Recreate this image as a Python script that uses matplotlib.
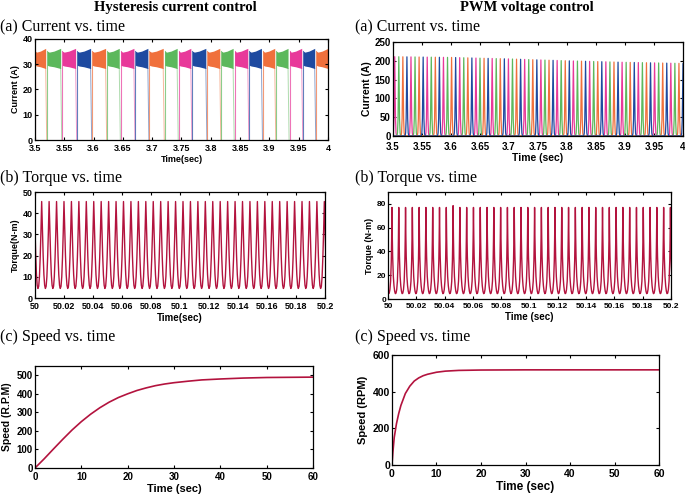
import numpy as np
import matplotlib
matplotlib.use('Agg')
from matplotlib import pyplot as plt
from matplotlib.ticker import MultipleLocator

W, H = 685, 494

# phase colours (same four for both current plots)
phase_colors = {'orange': '#F0703C', 'green': '#5CB85C',
                'pink': '#E8399A', 'blue': '#1E4AA0'}
trace_color = '#B3133E'

# --- (a) hysteresis current: end of every conduction block (sec) ---
hys_block_end = [3.5182, 3.5438, 3.5693, 3.5949, 3.6205, 3.6438, 3.6688,
                 3.6926, 3.7188, 3.7426, 3.7659, 3.7915, 3.8153, 3.8381,
                 3.8631, 3.8864, 3.9091, 3.9318, 3.9551, 3.9773, 4.0]
hys_phase_order = ['orange', 'green', 'pink', 'blue']
hys_gap = 0.0026                           # dead time between blocks
hys_band_pos = [0.0, 0.15, 0.5, 1.0]       # position inside block
hys_band_top = [35.2, 34.8, 35.2, 36.3]    # upper edge of chopping band (A)
hys_band_bot = [29.6, 29.3, 29.0, 28.3]    # lower edge of chopping band (A)

# --- (a) PWM current: pulse peaks ---
pwm_first_peak = 3.5030
pwm_pulse_period = 0.0070
pwm_env_t = [3.5, 3.6, 3.7, 3.8, 3.9, 4.0]
pwm_env_peak = [211, 209, 205, 200, 196, 193]
pwm_phase_order = ['pink', 'green', 'orange', 'blue']
pwm_pulse_dt = [-0.0032, -0.0022, -0.0013, -0.0007, 0.0, 0.0007, 0.0013,
                0.0022, 0.0032]
pwm_pulse_frac = [0.0, 0.04, 0.22, 0.55, 1.0, 0.55, 0.22, 0.04, 0.0]

# --- (b) torque, one cycle (peak -> next peak) ---
hys_tq_first_peak = 50.0046
hys_tq_period = 0.00513
hys_tq_cycle_pos = [0.0, 0.1, 0.2, 0.3, 0.4, 0.5, 0.6, 0.7, 0.8, 0.9]
hys_tq_cycle_val = [45.5, 33.0, 20.0, 11.0, 6.0, 4.5, 5.5, 10.0, 19.0, 31.0]

pwm_tq_first_peak = 50.0028
pwm_tq_period = 0.00480
pwm_tq_cycle_pos = [0.0, 0.05, 0.1, 0.2, 0.3, 0.4, 0.5, 0.6, 0.7, 0.8,
                    0.9, 0.95]
pwm_tq_cycle_val = [77.0, 52.0, 36.0, 19.0, 11.0, 6.5, 4.5, 5.0, 8.0, 15.0,
                    32.0, 50.0]
pwm_tq_tall_peak = {9: 78.5}

# --- (c) speed ---
hys_spd_t = [0, 2, 4, 6, 8, 10, 12, 14, 16, 18, 20, 22, 24, 26, 28, 30,
             33, 36, 40, 45, 50, 55, 60]
hys_spd = [0, 50, 103, 155, 205, 250, 290, 325, 355, 380, 400, 418, 432,
           444, 453, 460, 468, 475, 480, 485, 488, 489, 490]
pwm_spd_t = [0, 0.2, 0.5, 1, 1.5, 2, 3, 4, 5, 6, 7, 8, 10, 12, 15, 20,
             30, 40, 60]
pwm_spd = [0, 70, 150, 225, 280, 325, 390, 430, 458, 475, 487, 495, 506,
           512, 516, 518, 519, 519, 519]

plt.rcParams['font.family'] = ['Liberation Sans', 'DejaVu Sans']
plt.rcParams['font.weight'] = 'bold'
plt.rcParams['axes.linewidth'] = 0.9

fig = plt.figure(figsize=(W / 100, H / 100), dpi=100)


def px_axes(left, right, top, bottom):
    return fig.add_axes([left / W, 1 - bottom / H,
                         (right - left) / W, (bottom - top) / H])


def style(ax, size=6.5, xpad=3):
    ax.tick_params(direction='in', top=True, right=True, length=2.5,
                   width=0.8, labelsize=size, pad=1.5)
    ax.tick_params(axis='x', pad=xpad)
    for lab in ax.get_xticklabels() + ax.get_yticklabels():
        lab.set_fontweight('bold')


def fmt(v):
    return ('%.2f' % v).rstrip('0').rstrip('.')


def serif(x, y, s, size, weight='normal', ha='left'):
    fig.text(x / W, 1 - y / H, s, family='Liberation Serif', fontsize=size,
             weight=weight, ha=ha, va='center')


# headings
serif(175, 8, 'Hysteresis current control', 10.5, 'bold', 'center')
serif(527, 8, 'PWM voltage control', 10.5, 'bold', 'center')
serif(0, 27, '(a) Current vs. time', 11.5)
serif(355, 27, '(a) Current vs. time', 11.5)
serif(0, 178, '(b) Torque vs. time', 11.5)
serif(355, 178, '(b) Torque vs. time', 11.5)
serif(0, 337, '(c) Speed vs. time', 11.5)
serif(355, 337, '(c) Speed vs. time', 11.5)

# ---------------- (a) hysteresis current ----------------
ax = px_axes(35, 328, 39, 140)
starts = [3.5] + [e + hys_gap for e in hys_block_end[:-1]]
for i, (t0, t1) in enumerate(zip(starts, hys_block_end)):
    c = phase_colors[hys_phase_order[i % 4]]
    xs = [t0 + p * (t1 - t0) for p in hys_band_pos]
    ax.fill_between(xs, hys_band_bot, hys_band_top, color=c, lw=0)
    # switch-on edge
    ax.plot([t0, t0], [0, hys_band_top[0]], color=c, lw=0.8, alpha=0.7)
    # decay after switch-off
    if t1 < 4.0:
        ax.plot([t1, t1 + 0.0018], [hys_band_bot[-1], 0], color=c, lw=0.7,
                alpha=0.5)
ax.set_xlim(3.5, 4.0)
ax.set_ylim(0, 40)
ax.yaxis.set_major_locator(MultipleLocator(10))
ax.set_xticks(np.arange(3.5, 4.001, 0.05))
ax.set_xticklabels([fmt(v) for v in np.arange(3.5, 4.001, 0.05)])
ax.set_ylabel('Current (A)', fontsize=6.5, weight='bold', labelpad=2)
ax.set_xlabel('Time(sec)', fontsize=6.5, weight='bold', labelpad=1)
style(ax)

# ---------------- (a) PWM current ----------------
ax = px_axes(393, 683, 42, 136)
peaks_t = np.arange(pwm_first_peak, 4.0 + 1e-9, pwm_pulse_period)
peaks_v = np.interp(peaks_t, pwm_env_t, pwm_env_peak)
for k, name in enumerate(pwm_phase_order):
    xs, ys = [3.5], [0]
    for tp, vp in zip(peaks_t[k::4], peaks_v[k::4]):
        xs += [tp + d for d in pwm_pulse_dt]
        ys += [vp * f for f in pwm_pulse_frac]
    xs.append(4.0)
    ys.append(0)
    ax.plot(xs, ys, color=phase_colors[name], lw=0.9)
ax.set_xlim(3.5, 4.0)
ax.set_ylim(0, 250)
ax.set_xticks(np.arange(3.5, 4.001, 0.05))
ax.set_xticklabels([fmt(v) for v in np.arange(3.5, 4.001, 0.05)])
ax.yaxis.set_major_locator(MultipleLocator(50))
ax.set_ylabel('Current (A)', fontsize=7.5, weight='bold', labelpad=2)
ax.set_xlabel('Time (sec)', fontsize=7.5, weight='bold', labelpad=1)
style(ax, 7, xpad=4)


def torque_trace(first_peak, period, pos, val, t_end, tall=None):
    tall = tall or {}
    xs, ys = [], []
    k = -1
    t = first_peak - period
    while t < t_end:
        scale = tall.get(k, val[0]) / val[0]
        for p, v in zip(pos, val):
            xs.append(t + p * period)
            # only the spike tip is scaled
            ys.append(v * scale if p == 0 else v)
        k += 1
        t = first_peak + k * period
    return xs, ys


# ---------------- (b) hysteresis torque ----------------
ax = px_axes(35, 325, 192, 298)
xs, ys = torque_trace(hys_tq_first_peak, hys_tq_period, hys_tq_cycle_pos,
                      hys_tq_cycle_val, 50.21)
ax.plot(xs, ys, color=trace_color, lw=1.0)
ax.set_xlim(50, 50.2)
ax.set_ylim(0, 50)
tk = np.arange(50, 50.2001, 0.02)
ax.set_xticks(tk)
ax.set_xticklabels([fmt(v) for v in tk])
ax.yaxis.set_major_locator(MultipleLocator(10))
ax.set_ylabel('Torque(N-m)', fontsize=6.5, weight='bold', labelpad=2)
ax.set_xlabel('Time(sec)', fontsize=7, weight='bold', labelpad=1)
style(ax)

# ---------------- (b) PWM torque ----------------
ax = px_axes(388, 671, 192, 299)
xs, ys = torque_trace(pwm_tq_first_peak, pwm_tq_period, pwm_tq_cycle_pos,
                      pwm_tq_cycle_val, 50.21, pwm_tq_tall_peak)
ax.plot(xs, ys, color=trace_color, lw=1.0)
ax.set_xlim(50, 50.2)
ax.set_ylim(0, 90)
ax.set_xticks(tk)
ax.set_xticklabels([fmt(v) for v in tk])
ax.yaxis.set_major_locator(MultipleLocator(20))
ax.set_ylabel('Torque (N-m)', fontsize=6.5, weight='bold', labelpad=2)
ax.set_xlabel('Time (sec)', fontsize=7, weight='bold', labelpad=1)
style(ax, 6)

# ---------------- (c) hysteresis speed ----------------
ax = px_axes(35, 313, 366, 468)
ax.plot(hys_spd_t, hys_spd, color=trace_color, lw=1.2)
ax.set_xlim(0, 60)
ax.set_ylim(0, 550)
ax.xaxis.set_major_locator(MultipleLocator(10))
ax.yaxis.set_major_locator(MultipleLocator(100))
ax.set_ylabel('Speed (R.P.M)', fontsize=7.5, weight='bold', labelpad=3)
ax.set_xlabel('Time (sec)', fontsize=8, weight='bold', labelpad=1)
style(ax, 7)

# ---------------- (c) PWM speed ----------------
ax = px_axes(392, 659, 355, 465)
ax.plot(pwm_spd_t, pwm_spd, color=trace_color, lw=1.2)
ax.set_xlim(0, 60)
ax.set_ylim(0, 600)
ax.xaxis.set_major_locator(MultipleLocator(10))
ax.yaxis.set_major_locator(MultipleLocator(200))
ax.set_ylabel('Speed (RPM)', fontsize=8, weight='bold', labelpad=3)
ax.set_xlabel('Time (sec)', fontsize=8.5, weight='bold', labelpad=1)
style(ax, 7.5)

fig.savefig('out.png', dpi=100)
